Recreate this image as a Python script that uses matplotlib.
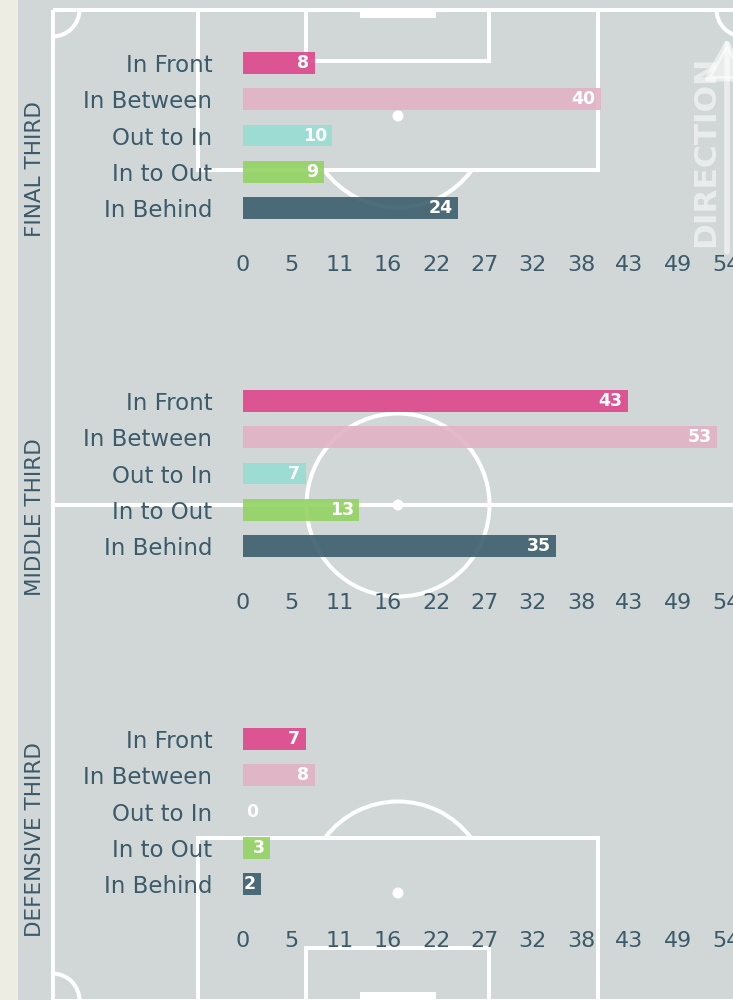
import matplotlib
matplotlib.use('Agg')
import matplotlib.pyplot as plt
from matplotlib.patches import Rectangle, Circle, Arc
import numpy as np

# passing direction counts per third of the pitch
categories = ['In Front', 'In Between', 'Out to In', 'In to Out', 'In Behind']
final_third = [8, 40, 10, 9, 24]
middle_third = [43, 53, 7, 13, 35]
defensive_third = [7, 8, 0, 3, 2]
thirds = ['FINAL THIRD', 'MIDDLE THIRD', 'DEFENSIVE THIRD']
x_max = 54
tick_vals = np.linspace(0, x_max, 11)
tick_labels = [str(int(round(t))) for t in tick_vals]

bar_colors = ['#de478b', '#e2b3c6', '#97ddd3', '#92d363', '#3c5e6d']
text_col = '#3b5a6a'
grass = '#d1d7d7'
strip = '#ededE3'
line_w = 2.9

W, H = 733, 1000
fig = plt.figure(figsize=(W/100, H/100), dpi=100, facecolor=grass)

# background axes in pixel units, y pointing down
bg = fig.add_axes([0, 0, 1, 1])
bg.set_xlim(0, W)
bg.set_ylim(H, 0)
bg.axis('off')
bg.add_patch(Rectangle((0, 0), 18, H, color=strip, lw=0))


def draw_pitch(ax):
    kw = dict(fill=False, ec='white', lw=line_w)
    left, right, top, bottom = 52.5, 743.5, 9.5, 1000.5
    mid = (left + right) / 2
    ax.add_patch(Rectangle((left, top), right - left, bottom - top, **kw))
    ax.plot([left, right], [505, 505], color='white', lw=line_w)
    # penalty and six yard boxes
    ax.add_patch(Rectangle((198, top), 400, 170 - top, **kw))
    ax.add_patch(Rectangle((198, 838), 400, bottom - 838, **kw))
    ax.add_patch(Rectangle((306, top), 183, 61 - top, **kw))
    ax.add_patch(Rectangle((306, 948), 183, bottom - 948, **kw))
    # goals
    ax.add_patch(Rectangle((360, top), 76, 8, color='white', lw=0))
    ax.add_patch(Rectangle((360, 992), 76, 9, color='white', lw=0))
    # circles, spots and arcs
    ax.add_patch(Circle((mid, 505), 91.5, **kw))
    for y in (116, 505, 893):
        ax.add_patch(Circle((mid, y), 5.5, color='white', lw=0))
    ax.add_patch(Arc((mid, 116), 183, 183, theta1=36.4, theta2=143.6,
                     color='white', lw=line_w))
    ax.add_patch(Arc((mid, 893), 183, 183, theta1=217.2, theta2=322.8,
                     color='white', lw=line_w))
    ax.add_patch(Arc((left, top), 54, 54, theta1=0, theta2=90, color='white', lw=line_w))
    ax.add_patch(Arc((right, top), 54, 54, theta1=90, theta2=180, color='white', lw=line_w))
    ax.add_patch(Arc((left, bottom), 54, 54, theta1=270, theta2=360, color='white', lw=line_w))


draw_pitch(bg)

# direction of play
bg.annotate('', xy=(727, 38), xytext=(727, 252),
            arrowprops=dict(arrowstyle='-|>,head_length=0.9,head_width=0.5', lw=4,
                            color='white', alpha=0.55,
                            mutation_scale=28, shrinkA=0, shrinkB=0))
bg.text(706, 151, 'DIRECTION', rotation=90, ha='center', va='center',
        fontsize=22.5, fontweight='bold', color='white', alpha=0.55)

row_gap = 36.3
first_row = 63
section_gap = 338
label_y = [169, 517, 840]

for s, vals in enumerate([final_third, middle_third, defensive_third]):
    top_px = first_row + s * section_gap - row_gap / 2
    ax = fig.add_axes([243 / W, 1 - (top_px + 5 * row_gap) / H,
                       (726 - 243) / W, 5 * row_gap / H])
    ax.patch.set_alpha(0)
    y = np.arange(len(categories))
    ax.barh(y, vals, height=0.6, color=bar_colors, alpha=0.9, lw=0)
    for yi, v in zip(y, vals):
        xpos = v - 0.6 if v > 0 else 1.7
        ax.text(xpos, yi, str(v), ha='right', va='center', color='white',
                fontsize=12.5, fontweight='bold')
    ax.set_xlim(0, x_max)
    ax.set_ylim(4.5, -0.5)
    ax.set_yticks(y)
    ax.set_yticklabels(categories, fontsize=16.5, color=text_col)
    ax.set_xticks(tick_vals)
    ax.set_xticklabels(tick_labels, fontsize=16, color=text_col)
    ax.tick_params(axis='y', length=0, pad=22)
    ax.tick_params(axis='x', length=0, pad=20.5)
    for sp in ax.spines.values():
        sp.set_visible(False)
    fig.text(35 / W, 1 - label_y[s] / H, thirds[s], rotation=90, ha='center',
             va='center', fontsize=15.5, color=text_col)

fig.savefig('out.png', dpi=100, facecolor=grass)
